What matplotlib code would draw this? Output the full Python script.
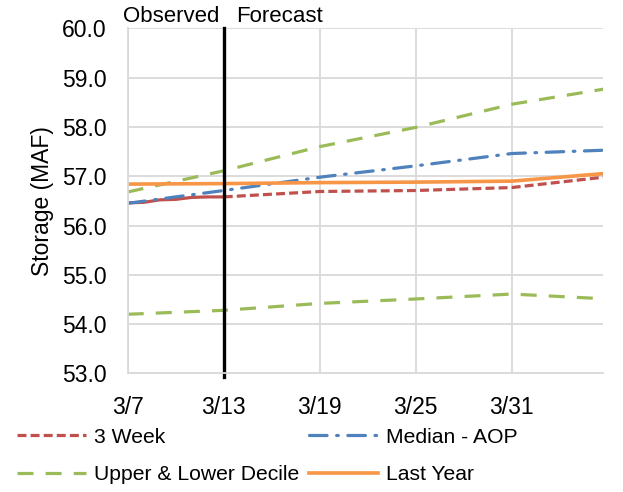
import matplotlib
matplotlib.use("Agg")
import matplotlib.pyplot as plt
import numpy as np

plt.rcParams['font.family'] = ['Liberation Sans', 'DejaVu Sans']

# days after 3/7
obs_days = [0, 1, 2, 3, 4, 5, 6]
obs_storage = [56.46, 56.47, 56.52, 56.53, 56.57, 56.58, 56.58]

days = [0, 6, 12, 18, 24, 30]
week3 = [np.nan, 56.58, 56.69, 56.71, 56.77, 56.99]
median_aop = [56.45, 56.71, 56.98, 57.21, 57.46, 57.53]
upper_decile = [56.68, 57.11, 57.60, 57.99, 58.46, 58.78]
lower_decile = [54.20, 54.28, 54.42, 54.51, 54.61, 54.51]
last_year = [56.84, 56.85, 56.87, 56.88, 56.90, 57.06]

tick_days = [0, 6, 12, 18, 24]
tick_labels = ["3/7", "3/13", "3/19", "3/25", "3/31"]
forecast_start = 6

red = "#C0504D"
blue = "#4F81BD"
green = "#9BBB59"
orange = "#F79646"
lw = 2.3
fs = 16.5

fig = plt.figure(figsize=(6.23, 4.92), dpi=100)
ax = fig.add_axes([0.205, 0.241, 0.763, 0.7015])

ax.plot(obs_days, obs_storage, color=red, lw=lw, solid_capstyle="butt")
l1, = ax.plot(days, week3, color=red, lw=lw, linestyle=(0, (2.8, 1.3)), label="3 Week")
l2, = ax.plot(days, median_aop, color=blue, lw=lw, linestyle=(0, (5.5, 3, 0.5, 3)),
              dash_capstyle="round", label="Median - AOP")
l3, = ax.plot(days, upper_decile, color=green, lw=lw, linestyle=(0, (5.0, 3.8)),
              label="Upper & Lower Decile")
ax.plot(days, lower_decile, color=green, lw=lw, linestyle=(0, (5.0, 3.8)))
l4, = ax.plot(days, last_year, color=orange, lw=lw + 0.3, label="Last Year")

ax.axvline(forecast_start, ymin=-0.01, ymax=1.0, color="black", lw=2.4, clip_on=False)

ax.set_xlim(0, 29.7)
ax.set_ylim(53, 60)
ax.set_yticks(np.arange(53, 60.5, 1))
ax.set_yticklabels([f"{v:.1f}" for v in np.arange(53, 60.5, 1)])
ax.set_xticks(tick_days)
ax.set_xticklabels(tick_labels)
ax.tick_params(axis="both", length=0, labelsize=fs, colors="black")
ax.tick_params(axis="y", pad=15)
ax.tick_params(axis="x", pad=16)
ax.grid(True, color="#D9D9D9", lw=1.3)
ax.set_axisbelow(True)
for s in ["top", "right"]:
    ax.spines[s].set_visible(False)
for s in ["left", "bottom"]:
    ax.spines[s].set_color("#D9D9D9")
    ax.spines[s].set_linewidth(1.3)

ax.set_ylabel("Storage (MAF)", fontsize=fs, labelpad=6)

ax.text(forecast_start - 0.3, 60.02, "Observed", ha="right", va="bottom", fontsize=16)
ax.text(forecast_start + 0.8, 60.02, "Forecast", ha="left", va="bottom", fontsize=16)

fig.legend(handles=[l1, l3, l2, l4], loc="lower left", bbox_to_anchor=(-0.003, -0.023),
           ncol=2, frameon=False, fontsize=15.2, handlelength=3.27, handletextpad=0.38,
           columnspacing=0.47, labelspacing=0.88)

fig.savefig("out.png", dpi=100)
